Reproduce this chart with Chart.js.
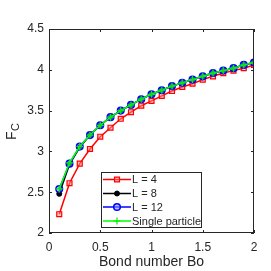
<!DOCTYPE html>
<html>
<head>
<meta charset="utf-8">
<script src="https://cdn.jsdelivr.net/npm/chart.js@4/dist/chart.umd.min.js"></script>
<style>
  html, body { margin: 0; padding: 0; background: #fff; }
  #wrap { width: 271px; height: 271px; }
</style>
</head>
<body>
<div id="wrap"><canvas id="fc"></canvas></div>
<script>
const bond = [0.1, 0.2, 0.3, 0.4, 0.5, 0.6, 0.7, 0.8, 0.9, 1.0, 1.1, 1.2, 1.3, 1.4, 1.5, 1.6, 1.7, 1.8, 1.9, 2.0];
const fcL4 = [2.23, 2.61, 2.85, 3.03, 3.18, 3.29, 3.40, 3.48, 3.56, 3.62, 3.68, 3.74, 3.79, 3.83, 3.88, 3.92, 3.96, 3.99, 4.02, 4.06];
const fcL8 = [2.48, 2.84, 3.05, 3.20, 3.32, 3.42, 3.50, 3.57, 3.64, 3.70, 3.75, 3.80, 3.84, 3.88, 3.92, 3.96, 3.99, 4.02, 4.06, 4.09];
const fcL12 = [2.54, 2.85, 3.06, 3.20, 3.32, 3.42, 3.50, 3.57, 3.64, 3.70, 3.75, 3.80, 3.84, 3.88, 3.92, 3.96, 3.99, 4.02, 4.06, 4.09];
const fcSingle = [2.54, 2.86, 3.06, 3.20, 3.32, 3.42, 3.50, 3.57, 3.64, 3.70, 3.75, 3.80, 3.84, 3.88, 3.92, 3.96, 3.99, 4.02, 4.06, 4.09];
const seriesNames = ["L = 4", "L = 8", "L = 12", "Single particle"];
const xTicks = [0, 0.5, 1, 1.5, 2];
const yTicks = [2, 2.5, 3, 3.5, 4, 4.5];

const axisColor = "#262626";
const fontFamily = "'Liberation Sans', Arial, sans-serif";

const toPoints = (ys) => ys.map((y, i) => ({ x: bond[i], y }));

// boite + ticks internes + legende + label F_C
const matlabAxes = {
  id: "matlabAxes",
  afterDraw(chart) {
    const { ctx, chartArea: a, scales } = chart;
    ctx.save();
    ctx.strokeStyle = axisColor;
    ctx.lineWidth = 1;
    ctx.strokeRect(a.left + 0.5, a.top + 0.5, a.right - a.left - 1, a.bottom - a.top - 1);
    ctx.beginPath();
    xTicks.forEach((v) => {
      const px = Math.round(scales.x.getPixelForValue(v)) + 0.5;
      ctx.moveTo(px, a.bottom); ctx.lineTo(px, a.bottom - 3);
      ctx.moveTo(px, a.top); ctx.lineTo(px, a.top + 3);
    });
    yTicks.forEach((v) => {
      const py = Math.round(scales.y.getPixelForValue(v)) + 0.5;
      ctx.moveTo(a.left, py); ctx.lineTo(a.left + 3, py);
      ctx.moveTo(a.right, py); ctx.lineTo(a.right - 3, py);
    });
    ctx.stroke();

    // label y
    ctx.translate(16, (a.top + a.bottom) / 2);
    ctx.rotate(-Math.PI / 2);
    ctx.fillStyle = axisColor;
    ctx.textBaseline = "alphabetic";
    ctx.textAlign = "left";
    ctx.font = "14px " + fontFamily;
    ctx.fillText("F", -9, 0);
    ctx.font = "11px " + fontFamily;
    ctx.fillText("C", 0, 3);
    ctx.restore();

    // legende
    const box = { left: 101, top: 172, right: 202, bottom: 228 };
    ctx.save();
    ctx.fillStyle = "#fff";
    ctx.fillRect(box.left, box.top, box.right - box.left, box.bottom - box.top);
    ctx.strokeStyle = axisColor;
    ctx.lineWidth = 1;
    ctx.strokeRect(box.left + 0.5, box.top + 0.5, box.right - box.left - 1, box.bottom - box.top - 1);
    const rows = [179.5, 193.5, 207, 221];
    chart.data.datasets.forEach((ds, i) => {
      const y = rows[i];
      ctx.strokeStyle = ds.borderColor;
      ctx.lineWidth = ds.borderWidth;
      ctx.beginPath();
      ctx.moveTo(103, y); ctx.lineTo(131, y);
      ctx.stroke();
      ctx.fillStyle = ds.pointBackgroundColor;
      ctx.strokeStyle = ds.pointBorderColor;
      ctx.lineWidth = ds.pointBorderWidth || 1;
      Chart.helpers.drawPoint(ctx, {
        pointStyle: ds.pointStyle,
        radius: ds.pointRadius,
        borderWidth: ds.pointBorderWidth || 1,
        rotation: 0
      }, 117, y);
      ctx.fillStyle = axisColor;
      ctx.font = "11px " + fontFamily;
      ctx.textBaseline = "middle";
      ctx.textAlign = "left";
      ctx.fillText(seriesNames[i], 132, y + 0.5);
    });
    ctx.restore();
  }
};

new Chart(document.getElementById("fc"), {
  type: "line",
  data: {
    datasets: [
      {
        label: seriesNames[0],
        data: toPoints(fcL4),
        borderColor: "#ff0000",
        borderWidth: 1.5,
        pointStyle: "rect",
        pointRadius: 3.5,
        pointBorderWidth: 1.2,
        pointBorderColor: "#ff0000",
        pointBackgroundColor: "rgba(255,140,140,0.5)",
        order: 4
      },
      {
        label: seriesNames[1],
        data: toPoints(fcL8),
        borderColor: "#000000",
        borderWidth: 1.5,
        pointStyle: "circle",
        pointRadius: 2.5,
        pointBorderWidth: 1,
        pointBorderColor: "#000000",
        pointBackgroundColor: "#000000",
        order: 3
      },
      {
        label: seriesNames[2],
        data: toPoints(fcL12),
        borderColor: "#0000ff",
        borderWidth: 1.5,
        pointStyle: "circle",
        pointRadius: 3.3,
        pointBorderWidth: 1.5,
        pointBorderColor: "#0000ff",
        pointBackgroundColor: "rgba(130,150,255,0.6)",
        order: 2
      },
      {
        label: seriesNames[3],
        data: toPoints(fcSingle),
        borderColor: "#00ff00",
        borderWidth: 1.5,
        pointStyle: "cross",
        pointRadius: 3.5,
        pointBorderWidth: 1.2,
        pointBorderColor: "#00ee00",
        pointBackgroundColor: "#00ee00",
        order: 1
      }
    ]
  },
  options: {
    responsive: true,
    maintainAspectRatio: false,
    animation: false,
    layout: { padding: { top: 29, right: 17, left: 0, bottom: 0 } },
    plugins: {
      legend: { display: false },
      tooltip: { enabled: false }
    },
    elements: { line: { tension: 0 } },
    scales: {
      x: {
        type: "linear",
        min: 0,
        max: 2,
        afterBuildTicks: (s) => { s.ticks = xTicks.map((v) => ({ value: v })); },
        afterFit: (s) => { s.height = 38; },
        grid: { display: false, drawTicks: false },
        border: { display: false },
        ticks: {
          padding: 7,
          color: axisColor,
          font: { family: fontFamily, size: 12 },
          callback: (v) => String(v)
        },
        title: {
          display: true,
          text: "Bond number Bo",
          color: axisColor,
          font: { family: fontFamily, size: 14 },
          padding: { top: 0, bottom: 0 }
        }
      },
      y: {
        type: "linear",
        min: 2,
        max: 4.5,
        afterBuildTicks: (s) => { s.ticks = yTicks.map((v) => ({ value: v })); },
        afterFit: (s) => { s.width = 49; },
        grid: { display: false, drawTicks: false },
        border: { display: false },
        ticks: {
          padding: 5,
          color: axisColor,
          font: { family: fontFamily, size: 12 },
          callback: (v) => String(v)
        }
      }
    }
  },
  plugins: [matlabAxes]
});
</script>
</body>
</html>
